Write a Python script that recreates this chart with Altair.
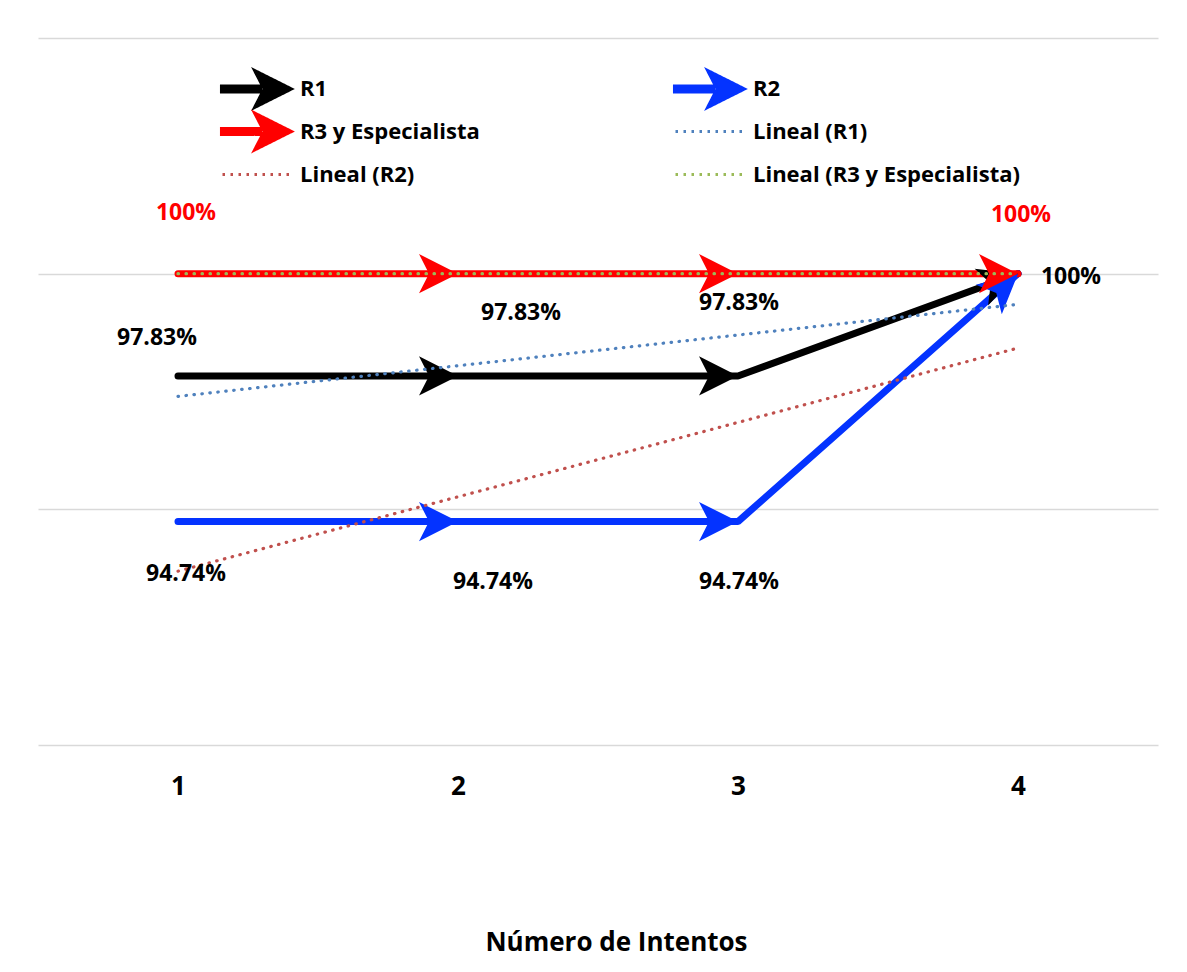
import altair as alt
import pandas as pd
import numpy as np

# ---------------- data ----------------
intentos = [1, 2, 3, 4]
r1 = [97.83, 97.83, 97.83, 100.0]
r2 = [94.74, 94.74, 94.74, 100.0]
r3 = [100.0, 100.0, 100.0, 100.0]
series_names = ["R1", "R2", "R3 y Especialista"]
trend_names = ["Lineal (R1)", "Lineal (R2)", "Lineal (R3 y Especialista)"]
y_ticks = [90, 95, 100, 105]
x_title = "Número de Intentos"

# ---------------- style ----------------
series_colors = ["#000000", "#0433ff", "#ff0000"]
trend_colors = ["#4f81bd", "#c0504d", "#9bbb59"]
FONT = "Open Sans"
W, H = 1120, 707
X_DOM = [0.5, 4.5]
Y_DOM = [90, 105]

# label offsets (dx, dy) in pixels, per (series, x)
label_style = {
    ("R1", 1): (-21, -38, "#000000"),
    ("R1", 2): (63, -63, "#000000"),
    ("R1", 3): (1, -73, "#000000"),
    ("R1", 4): (53, 3, "#000000"),
    ("R2", 1): (8, 52, "#000000"),
    ("R2", 2): (35, 60, "#000000"),
    ("R2", 3): (1, 60, "#000000"),
    ("R3 y Especialista", 1): (8, -61, "#ff0000"),
    ("R3 y Especialista", 4): (3, -59, "#ff0000"),
}

rows = []
for name, vals in zip(series_names, [r1, r2, r3]):
    for xi, yi in zip(intentos, vals):
        rows.append({"serie": name, "x": xi, "y": yi,
                     "tendencia": "Lineal (" + name + ")",
                     "label": f"{yi:g}%"})
df = pd.DataFrame(rows)

# arrow-head rotation computed from the data in the plot's pixel space
px_x = W / (X_DOM[1] - X_DOM[0])
px_y = H / (Y_DOM[1] - Y_DOM[0])
heads = []
for name, vals in zip(series_names, [r1, r2, r3]):
    for i in range(1, len(intentos)):
        ddx = (intentos[i] - intentos[i - 1]) * px_x
        ddy = -(vals[i] - vals[i - 1]) * px_y
        ang = float(np.degrees(np.arctan2(ddy, ddx)) % 360)
        heads.append({"serie": name, "x": intentos[i], "y": vals[i], "ang": ang})
heads_df = pd.DataFrame(heads)

legend_df = pd.DataFrame({"serie": series_names + trend_names})

HEAD_PATH = "M0,0 L-1.95,-0.98 L-1.45,0 L-1.95,0.98 Z"
LEG_ARROW = ("M-3.19,-0.19 L-0.75,-0.19 L-0.75,0.19 L-3.19,0.19 Z "
             "M1.19,0 L-1.125,-1.16 L-0.525,0 L-1.125,1.16 Z")
LEG_LINE = "M-3.125,0 L1.19,0"

all_names = series_names + trend_names
all_colors = series_colors + trend_colors
# colour scale for the drawn marks (domain listed trend-first so that it stays
# separate from the legend's scales)
color_scale = alt.Scale(domain=trend_names + series_names, range=trend_colors + series_colors)

x_enc = alt.X("x:Q", scale=alt.Scale(domain=X_DOM, nice=False, zero=False),
              axis=alt.Axis(values=intentos, format="d", title=x_title, grid=False,
                            domain=False, ticks=False, labelFont=FONT, labelFontSize=26,
                            labelFontWeight="bold", labelColor="#000000", labelPadding=28,
                            titleFont=FONT, titleFontSize=26, titleFontWeight="bold",
                            titleColor="#000000", titlePadding=130, titleX=578))
y_enc = alt.Y("y:Q", scale=alt.Scale(domain=Y_DOM, nice=False, zero=False),
              axis=alt.Axis(values=y_ticks, labels=False, ticks=False, domain=False,
                            grid=True, gridColor="#d9d9d9", gridWidth=1.5, title=None))
color_enc = alt.Color("serie:N", scale=color_scale, legend=None)

lines = alt.Chart(df).mark_line(strokeWidth=7, strokeCap="round", strokeJoin="bevel").encode(
    x=x_enc, y=y_enc, color=color_enc)

arrow_heads = alt.Chart(heads_df).mark_point(
    shape=HEAD_PATH, size=1600, filled=True, opacity=1, strokeWidth=0).encode(
    x=x_enc, y=y_enc, color=color_enc, angle=alt.Angle("ang:Q", scale=None))

trend = alt.Chart(df).transform_regression(
    "x", "y", groupby=["tendencia"], extent=[1, 4]
).transform_calculate(serie="datum.tendencia").mark_line(
    strokeWidth=3.2, strokeDash=[0.5, 7.5], strokeCap="round").encode(
    x=x_enc, y=y_enc, color=color_enc)

# legend-only layer (no visible marks: its rows are filtered out)
legend = alt.Legend(
    title=None, orient="none", legendX=217, legendY=33, columns=2, direction="horizontal",
    labelFont=FONT, labelFontSize=22, labelFontWeight="bold", labelColor="#000000",
    symbolSize=1024, symbolStrokeWidth=3, labelOffset=10, columnPadding=188,
    rowPadding=-8, padding=0, labelLimit=400,
)
leg_layer = alt.Chart(legend_df).transform_filter("false").mark_point(
    filled=True, opacity=1, strokeCap="round").encode(
    fill=alt.Fill("serie:N", scale=alt.Scale(domain=all_names, range=all_colors), legend=legend),
    stroke=alt.Stroke("serie:N", scale=alt.Scale(domain=all_names, range=all_colors), legend=legend),
    shape=alt.Shape("serie:N", scale=alt.Scale(domain=all_names,
                    range=[LEG_ARROW] * 3 + [LEG_LINE] * 3), legend=legend),
    strokeDash=alt.StrokeDash("serie:N", scale=alt.Scale(domain=all_names,
                              range=[[1, 0]] * 3 + [[2.5, 5.5]] * 3), legend=legend),
)

texts = []
for (name, xi), (ddx, ddy, col) in label_style.items():
    texts.append(
        alt.Chart(df).transform_filter(
            (alt.datum.serie == name) & (alt.datum.x == xi)
        ).mark_text(dx=ddx, dy=ddy, font=FONT, fontSize=23, fontWeight="bold",
                    color=col, align="center", baseline="middle").encode(
            x=x_enc, y=y_enc, text="label:N")
    )

chart = alt.layer(lines, arrow_heads, trend, *texts, leg_layer).properties(
    width=W, height=H,
    padding={"left": 38, "top": 38, "right": 29, "bottom": 10},
    background="#ffffff",
).configure_view(stroke=None)

chart.save("out.html", embed_options={"renderer": "svg", "actions": False})
